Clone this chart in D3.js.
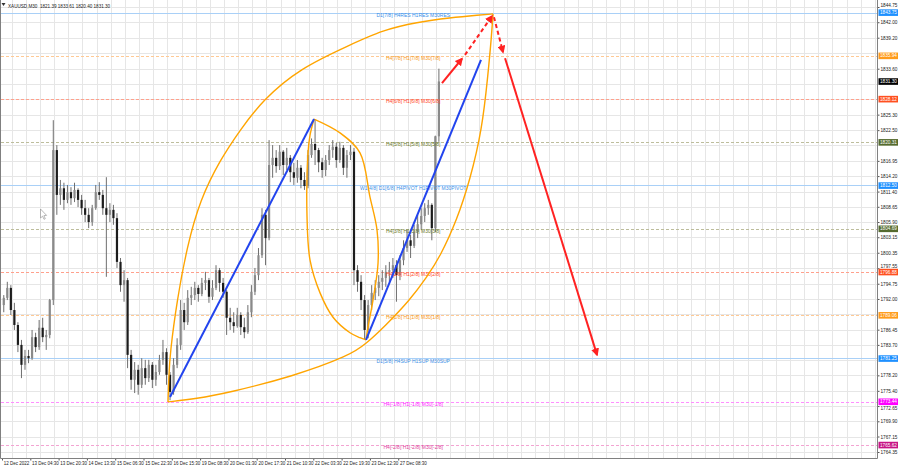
<!DOCTYPE html>
<html><head><meta charset="utf-8">
<script src="https://cdn.jsdelivr.net/npm/d3@7"></script>
<style>html,body{margin:0;padding:0;background:#fff;}svg{display:block;}</style>
</head><body><svg id="c" width="900" height="468"></svg>
<script>
// ---------- DATA ----------
const titleText = "XAUUSD,M30  1821.39 1833.61 1820.40 1831.30";
// 2-hour candles (4 x M30) except the last, which is the live M30 bar
const candleOpen = [
1790.9,1792.2,1794.0,1790.0,1787.3,1783.7,1780.1,1781.7,1781.3,1785.1,
1783.3,1786.8,1785.1,1785.5,1791.8,1818.9,1810.8,1812.0,1809.9,1811.3,
1810.2,1811.7,1809.9,1808.4,1807.2,1805.9,1808.4,1811.3,1810.8,1808.4,
1807.2,1808.1,1806.6,1798.7,1794.5,1795.4,1781.9,1777.4,1779.2,1776.5,
1779.5,1777.7,1780.1,1777.4,1778.8,1781.0,1782.4,1778.3,1775.2,1780.1,
1783.7,1790.0,1787.8,1792.2,1792.7,1794.0,1792.9,1794.9,1795.4,1792.4,
1794.0,1797.2,1794.9,1793.3,1788.6,1787.8,1787.1,1789.1,1786.9,1786.0,
1789.6,1793.3,1796.3,1799.9,1807.2,1803.0,1816.2,1817.5,1816.0,1818.6,
1816.2,1817.5,1814.9,1813.9,1815.7,1813.5,1812.4,1818.0,1820.0,1818.9,
1816.7,1815.3,1817.1,1818.9,1819.5,1817.1,1819.3,1815.7,1818.0,1818.6,
1797.2,1795.1,1791.8,1786.4,1790.9,1793.1,1794.0,1795.1,1795.8,1796.9,
1797.2,1798.1,1796.3,1799.0,1801.2,1802.6,1801.6,1804.1,1805.5,1807.0,
1808.4,1809.0,1804.8,1821.39];
const candleHigh = [
1792.7,1795.1,1794.5,1791.3,1787.8,1784.6,1782.8,1782.8,1786.4,1785.9,
1788.2,1788.6,1786.4,1792.0,1824.3,1819.8,1813.5,1813.0,1812.6,1812.2,
1813.0,1812.0,1810.8,1809.9,1808.4,1809.0,1812.6,1813.1,1811.7,1814.0,
1809.3,1809.0,1807.5,1799.4,1797.2,1795.8,1782.8,1780.6,1780.1,1781.3,
1781.0,1781.0,1780.6,1780.1,1781.9,1784.6,1783.1,1778.8,1781.3,1784.9,
1791.8,1791.3,1793.6,1794.2,1795.1,1794.5,1795.8,1796.9,1795.8,1795.4,
1798.1,1797.6,1795.8,1793.6,1790.4,1789.6,1790.4,1789.6,1788.6,1790.9,
1794.5,1797.6,1801.2,1808.4,1808.1,1820.7,1819.8,1818.9,1819.8,1818.9,
1819.3,1818.0,1816.6,1817.1,1816.2,1814.9,1818.9,1821.0,1824.5,1819.3,
1817.5,1818.0,1819.8,1820.7,1820.2,1820.4,1819.8,1818.9,1819.8,1819.3,
1798.1,1796.3,1792.7,1791.8,1794.5,1795.4,1796.3,1797.2,1798.1,1798.7,
1799.4,1799.0,1799.9,1802.6,1804.5,1803.6,1805.4,1807.2,1808.4,1809.3,
1809.9,1809.3,1821.5,1833.61];
const candleLow = [
1789.6,1791.8,1789.1,1786.4,1782.4,1777.7,1779.2,1780.4,1781.0,1782.4,
1782.8,1784.2,1782.8,1784.9,1790.9,1807.2,1809.0,1808.1,1809.3,1809.0,
1809.5,1808.6,1807.2,1805.9,1804.8,1805.2,1808.1,1809.9,1807.2,1796.0,
1805.9,1805.4,1797.6,1793.3,1791.5,1779.5,1775.6,1775.0,1774.7,1775.9,
1776.5,1777.0,1775.9,1776.3,1778.3,1780.1,1776.5,1773.7,1774.7,1779.5,
1782.8,1786.4,1787.3,1790.9,1791.8,1791.5,1792.5,1793.6,1791.3,1791.8,
1793.6,1793.3,1792.2,1785.5,1786.4,1785.9,1786.8,1785.5,1784.9,1785.7,
1788.7,1792.7,1795.4,1799.4,1798.1,1802.6,1813.9,1814.8,1815.3,1814.4,
1815.3,1813.1,1812.6,1813.0,1812.0,1811.7,1812.0,1817.5,1816.2,1814.9,
1813.9,1814.2,1816.2,1817.5,1815.7,1816.6,1814.4,1813.9,1817.1,1794.5,
1793.3,1790.0,1784.6,1784.9,1790.0,1791.8,1792.5,1793.6,1794.2,1795.1,
1795.8,1791.5,1795.4,1798.1,1800.5,1799.4,1801.2,1803.0,1804.5,1805.9,
1807.2,1802.6,1804.1,1820.40];
const candleClose = [
1792.2,1794.0,1790.0,1787.3,1783.7,1780.1,1781.7,1781.3,1785.1,1783.3,
1786.8,1785.1,1785.5,1791.8,1818.9,1810.8,1812.0,1809.9,1811.3,1810.2,
1811.7,1809.9,1808.4,1807.2,1805.9,1808.4,1811.3,1810.8,1808.4,1807.2,
1808.1,1806.6,1798.7,1794.5,1795.4,1781.9,1777.4,1779.2,1776.5,1779.5,
1777.7,1780.1,1777.4,1778.8,1781.0,1782.4,1778.3,1775.2,1780.1,1783.7,
1790.0,1787.8,1792.2,1792.7,1794.0,1792.9,1794.9,1795.4,1792.4,1794.0,
1797.2,1794.9,1793.3,1788.6,1787.8,1787.1,1789.1,1786.9,1786.0,1789.6,
1793.3,1796.3,1799.9,1807.2,1803.0,1816.2,1817.5,1816.0,1818.6,1816.2,
1817.5,1814.9,1813.9,1815.7,1813.5,1812.4,1818.0,1820.0,1818.9,1816.7,
1815.3,1817.1,1818.9,1819.5,1817.1,1819.3,1815.7,1818.0,1818.6,1797.2,
1795.1,1791.8,1786.4,1790.9,1793.1,1794.0,1795.1,1795.8,1796.9,1797.2,
1798.1,1796.3,1799.0,1801.2,1802.6,1801.6,1804.1,1805.5,1807.0,1808.4,
1809.0,1804.8,1821.39,1831.30];

const timeLabels = ["12 Dec 2022","13 Dec 04:30","13 Dec 20:30","14 Dec 13:30","15 Dec 06:30",
"15 Dec 22:30","16 Dec 15:30","19 Dec 08:30","20 Dec 01:30","20 Dec 17:30","21 Dec 10:30",
"22 Dec 03:30","22 Dec 19:30","23 Dec 12:30","27 Dec 08:30"];
const priceTicks = [1844.75,1842.00,1839.20,1836.40,1833.60,1830.85,1828.10,1825.30,1822.50,1819.75,
1816.95,1814.20,1811.40,1808.65,1805.90,1803.15,1800.35,1797.55,1794.75,1792.00,1789.25,1786.45,
1783.70,1780.95,1778.20,1775.40,1772.65,1769.90,1767.15,1764.35];

const levelPrices = [1843.75,1835.94,1828.12,1820.31,1812.50,1804.69,1796.88,1789.06,1781.25,1773.44,1765.62];
const levelLabels = ["D1[7/8] H4RES H1RES M30RES","H4[7/8] H1[7/8] M30[7/8]","H4[6/8] H1[6/8] M30[6/8]",
"H4[5/8] H1[5/8] M30[5/8]","W1[4/8] D1[6/8] H4PIVOT H1PIVOT M30PIVOT","H4[3/8] H1[3/8] M30[3/8]",
"H4[2/8] H1[2/8] M30[2/8]","H4[1/8] H1[1/8] M30[1/8]","D1[5/8] H4SUP H1SUP M30SUP",
"H4[-1/8] H1[-1/8] M30[-1/8]","H4[-2/8] H1[-2/8] M30[-2/8]"];
const levelKinds = ["blue","orange","red","olive","blue","olive","red","orange","blue","magenta","pink"];
const currentPrice = 1831.30;

// annotation shapes, as [bar index, price]
const arcUpper = [[187.7,1773.4],[188.6,1778.0],[190.0,1782.2],[197.9,1791.8],[209.2,1801.4],[223.9,1809.9],[246.5,1817.1],
[269.1,1822.5],[295.1,1828.0],[337.0,1833.7],[393.5,1837.9],[430.8,1840.6],[469.2,1842.0],[506.6,1842.8],[540.0,1843.3],[555.2,1843.5]];
const arcLower = [[187.7,1773.4],[220.0,1774.0],[254.4,1775.0],[329.0,1778.0],[393.5,1781.8],[411.6,1783.9],[433.1,1787.1],
[461.3,1791.8],[480.5,1796.0],[495.3,1799.6],[514.5,1806.3],[529.2,1813.5],[542.7,1822.5],[549.5,1832.5],[553.5,1839.5],[555.2,1843.5]];
const lensRight = [[352.8,1824.5],[382.2,1822.0],[404.8,1818.4],[416.1,1810.4],[424.0,1804.5],[425.2,1798.5],
[419.5,1791.8],[413.8,1786.9],[411.6,1784.6]];
const lensLeft = [[352.8,1824.5],[348.3,1821.6],[346.0,1818.4],[344.9,1806.8],[348.3,1799.0],[359.6,1793.1],
[374.3,1788.7],[393.5,1785.9],[404.8,1785.0],[411.6,1784.6]];
const blueWave1 = [[190.0,1774.3],[352.8,1824.5]];
const blueWave2 = [[411.6,1784.6],[541.6,1835.2]];
const redSolid1 = [[497.5,1831.0],[520.1,1835.4]];
const redDash1 = [[523.5,1836.1],[554.0,1843.1]];
const redDash2 = [[556.3,1842.9],[566.5,1836.6]];
const redSolid2 = [[568.8,1835.5],[672.8,1781.9]];

// ---------- RENDER ----------
const FONT = "'Liberation Sans', Arial, sans-serif";
const PLOT_R = 877.5, PLOT_B = 458.5;
const BARS_PER_CANDLE = 4, BARS_PER_LABEL = 32;
const x = d3.scaleLinear().domain([0, 990]).range([2, 2 + 990 * 0.8844]);
const y = d3.scaleLinear().domain([1764.35, 1844.75]).range([452, 7]);
const svg = d3.select("#c").attr("font-family", FONT);
svg.append("rect").attr("width", 900).attr("height", 468).attr("fill", "#fff");

const style = {
  blue:    {line:"#a9d0f7", dash:null,  text:"#3b8fe8", box:"#1e90ff"},
  orange:  {line:"#ffc994", dash:"3,2", text:"#f79a1e", box:"#ff9b1a"},
  red:     {line:"#ffa08c", dash:"3,2", text:"#ff4a2a", box:"#ff5020"},
  olive:   {line:"#bdbd9c", dash:"3,2", text:"#6e7d2e", box:"#556b2f"},
  magenta: {line:"#ff8eff", dash:"3,2", text:"#ff22ff", box:"#ff00ff"},
  pink:    {line:"#f3a3d2", dash:"3,2", text:"#e0409c", box:"#c71585"}
};

// grid
const gridBars = d3.range(11, 990, 16).filter(b => x(b) < PLOT_R);
const grid = svg.append("g").attr("stroke", "#e6e6e6").attr("stroke-width", 1);
grid.selectAll("line.v").data(gridBars).join("line").attr("class","v")
  .attr("x1", d => Math.round(x(d)) + 0.5).attr("x2", d => Math.round(x(d)) + 0.5)
  .attr("y1", 0).attr("y2", PLOT_B);
grid.selectAll("line.h").data(priceTicks).join("line").attr("class","h")
  .attr("x1", 1).attr("x2", PLOT_R)
  .attr("y1", d => Math.round(y(d)) + 0.5).attr("y2", d => Math.round(y(d)) + 0.5);

// level lines
const levels = levelPrices.map((p, i) => ({p, label: levelLabels[i], kind: levelKinds[i]}));
svg.append("g").selectAll("line").data(levels).join("line")
  .attr("x1", 1).attr("x2", PLOT_R)
  .attr("y1", d => Math.round(y(d.p)) + 0.5).attr("y2", d => Math.round(y(d.p)) + 0.5)
  .attr("stroke", d => style[d.kind].line).attr("stroke-width", 1)
  .attr("stroke-dasharray", d => style[d.kind].dash);

// candles
const candles = candleOpen.map((o, j) => ({
  bar: j * BARS_PER_CANDLE + 2, o, h: candleHigh[j], l: candleLow[j], c: candleClose[j]}));
const cg = svg.append("g");
cg.selectAll("line").data(candles).join("line")
  .attr("x1", d => x(d.bar)).attr("x2", d => x(d.bar))
  .attr("y1", d => y(Math.max(d.h, d.o, d.c))).attr("y2", d => y(Math.min(d.l, d.o, d.c)))
  .attr("stroke", "#6e6e6e").attr("stroke-width", 1);
cg.selectAll("rect").data(candles).join("rect")
  .attr("x", d => x(d.bar) - 1.1).attr("width", 2.2)
  .attr("y", d => y(Math.max(d.o, d.c)))
  .attr("height", d => Math.max(0.8, Math.abs(y(d.o) - y(d.c))))
  .attr("fill", d => d.c >= d.o ? "#8a8a8a" : "#1c1c1c");

// level labels
svg.append("g").selectAll("text").data(levels).join("text")
  .attr("x", x(465)).attr("y", d => y(d.p) + 4.2)
  .attr("text-anchor", "middle").attr("font-size", 5)
  .attr("fill", d => style[d.kind].text).text(d => d.label);

// annotations
const smooth = d3.line().x(d => x(d[0])).y(d => y(d[1])).curve(d3.curveBasis);
const curve = d3.line().x(d => x(d[0])).y(d => y(d[1])).curve(d3.curveCatmullRom.alpha(0.5));
const straight = d3.line().x(d => x(d[0])).y(d => y(d[1]));
const ann = svg.append("g").attr("fill", "none");
[arcUpper, arcLower].forEach(pts =>
  ann.append("path").attr("d", smooth(pts)).attr("stroke", "#ffa500").attr("stroke-width", 1.4));
[lensRight, lensLeft].forEach(pts =>
  ann.append("path").attr("d", curve(pts)).attr("stroke", "#ffa500").attr("stroke-width", 1.4));
[blueWave1, blueWave2].forEach(pts =>
  ann.append("path").attr("d", straight(pts)).attr("stroke", "#2244ee").attr("stroke-width", 2));

const defs = svg.append("defs");
defs.append("marker").attr("id", "ah").attr("viewBox", "0 0 10 10")
  .attr("refX", 8).attr("refY", 5).attr("markerWidth", 8).attr("markerHeight", 8)
  .attr("markerUnits", "userSpaceOnUse").attr("orient", "auto")
  .append("path").attr("d", "M0,0 L10,5 L0,10 z").attr("fill", "#ff2222");
[[redSolid1, null], [redDash1, "4,3"], [redDash2, "4,3"], [redSolid2, null]].forEach(([pts, dash]) =>
  ann.append("path").attr("d", straight(pts)).attr("stroke", "#ff2222").attr("stroke-width", 2)
    .attr("stroke-dasharray", dash).attr("marker-end", "url(#ah)"));

// axes: tick labels hidden behind a price box in the reference are not printed
const boxPrices = levelPrices.concat([currentPrice]);
const shownTicks = priceTicks.filter(t => d3.min(boxPrices, b => Math.abs(y(b) - y(t))) > 3.2);
const yAxis = d3.axisRight(y).tickValues(shownTicks).tickFormat(d3.format(".2f")).tickSize(2).tickPadding(1);
svg.append("g").attr("transform", `translate(${PLOT_R},0)`).call(yAxis)
  .attr("font-family", FONT).attr("font-size", 4.7)
  .call(g => g.select(".domain").remove())
  .call(g => g.selectAll("line").attr("stroke", "#555"))
  .call(g => g.selectAll("text").attr("fill", "#222")
     .attr("dy", d => {
       const nb = d3.least(boxPrices, b => Math.abs(y(b) - y(d)));
       const gap = y(d) - y(nb);
       return Math.abs(gap) < 6 ? (gap < 0 ? -2.2 : 2.2) + 1.6 : 1.6;
     }));

const xAxis = d3.axisBottom(x).tickValues(timeLabels.map((_, i) => i * BARS_PER_LABEL))
  .tickFormat((d, i) => timeLabels[i]).tickSize(2).tickPadding(1.5);
svg.append("g").attr("transform", `translate(0,${PLOT_B})`).call(xAxis)
  .attr("font-family", FONT).attr("font-size", 4.5)
  .call(g => g.select(".domain").remove())
  .call(g => g.selectAll("line").attr("stroke", "#555"))
  .call(g => g.selectAll("text").attr("text-anchor", "start").attr("dx", 1.2).attr("fill", "#222"));

// frame
const frame = svg.append("g").attr("stroke", "#808080").attr("stroke-width", 1);
frame.append("line").attr("x1", PLOT_R).attr("x2", PLOT_R).attr("y1", 0).attr("y2", PLOT_B);
frame.append("line").attr("x1", 0.5).attr("x2", PLOT_R).attr("y1", PLOT_B).attr("y2", PLOT_B);
frame.append("line").attr("x1", 0.5).attr("x2", 0.5).attr("y1", 0).attr("y2", PLOT_B);

// price boxes on the axis
const boxes = levels.map(d => ({p: d.p, fill: style[d.kind].box}))
  .concat([{p: currentPrice, fill: "#000"}]);
const bg = svg.append("g");
bg.selectAll("rect").data(boxes).join("rect")
  .attr("x", PLOT_R + 1).attr("width", 19.5)
  .attr("y", d => y(d.p) - 3.2).attr("height", 6.6).attr("fill", d => d.fill);
bg.selectAll("text").data(boxes).join("text")
  .attr("x", PLOT_R + 2.5).attr("y", d => y(d.p) + 1.7)
  .attr("font-size", 4.7).attr("fill", "#fff").text(d => d3.format(".2f")(d.p));

// title
svg.append("path").attr("d", "M1.5,3 L5.5,3 L3.5,6 Z").attr("fill", "#333");
svg.append("text").attr("x", 8).attr("y", 7.6).attr("font-size", 4.6).attr("fill", "#222")
  .attr("xml:space", "preserve").style("white-space", "pre").text(titleText);

// mouse pointer left on the chart
svg.append("path").attr("d", "M40.5,209 L40.5,218 L42.6,216.2 L44,219.3 L45.3,218.7 L43.9,215.6 L46.6,215.4 Z")
  .attr("fill", "#fff").attr("stroke", "#888").attr("stroke-width", 0.6);
</script>
</body></html>
